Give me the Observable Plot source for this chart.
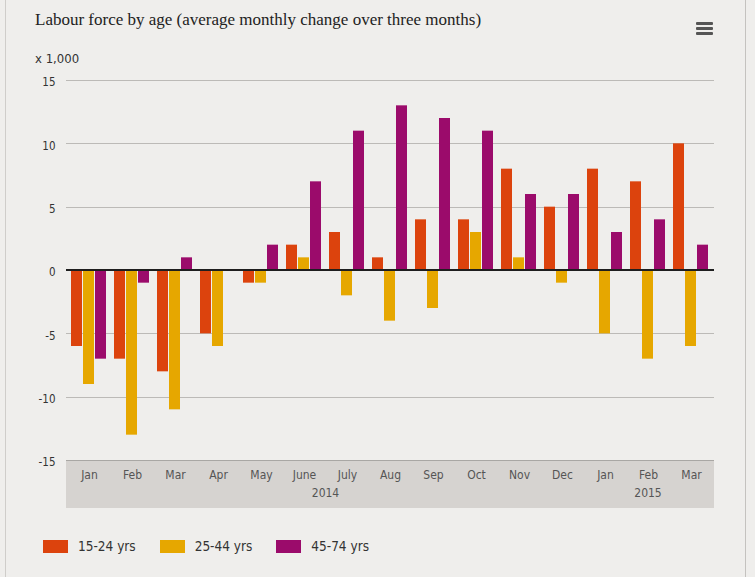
<!DOCTYPE html>
<html><head><meta charset="utf-8">
<script src="https://cdn.jsdelivr.net/npm/d3@7"></script>
<script src="https://cdn.jsdelivr.net/npm/@observablehq/plot@0.6"></script>
<style>
body{margin:0;background:#efeeec;}
#card{position:relative;width:755px;height:577px;background:#efeeec;overflow:hidden;font-family:"Liberation Sans Narrow","DejaVu Sans Condensed","Open Sans",sans-serif;color:#333;}
#frame{position:absolute;left:5px;top:-2px;width:739px;height:590px;border-left:1px solid #cfcdca;border-right:1px solid #c4c2bf;}
#title{position:absolute;left:35px;top:10px;font-family:"Liberation Serif","DejaVu Serif",serif;font-size:17px;color:#222;white-space:nowrap;}
#menu{position:absolute;left:696px;top:22px;width:17px;}
#menu span{display:block;height:3px;background:#555;margin-bottom:2px;border-radius:1px;}
#unit{position:absolute;left:35px;top:51px;font-size:13px;color:#333;}
#chart{position:absolute;left:0;top:68px;}
#legend{position:absolute;left:43px;top:538px;display:flex;font-size:13.5px;color:#333;}
#legend .item{display:flex;align-items:center;margin-right:0;}
#legend .sw{width:25px;height:13px;margin-right:10px;}
</style></head><body>
<div id="card">
 <div id="frame"></div>
 <div id="title">Labour force by age (average monthly change over three months)</div>
 <div id="menu"><span></span><span></span><span></span></div>
 <div id="unit">x 1,000</div>
 <div id="chart"></div>
 <div id="legend"></div>
</div>
<script>
const monthKeys = ["2014-01","2014-02","2014-03","2014-04","2014-05","2014-06","2014-07","2014-08","2014-09","2014-10","2014-11","2014-12","2015-01","2015-02","2015-03"];
const monthLabels = ["Jan","Feb","Mar","Apr","May","June","July","Aug","Sep","Oct","Nov","Dec","Jan","Feb","Mar"];
const yearLabels = ["2014","2015"];
const seriesNames = ["15-24 yrs","25-44 yrs","45-74 yrs"];
const seriesColors = ["#dc430d","#e6a700","#9b0b6b"];
const age15_24 = [-6,-7,-8,-5,-1,2,3,1,4,4,8,5,8,7,10];
const age25_44 = [-9,-13,-11,-6,-1,1,-2,-4,-3,3,1,-1,-5,-7,-6];
const age45_74 = [-7,-1,1,0,2,7,11,13,12,11,6,6,3,4,2];
const yTicks = [-15,-10,-5,0,5,10,15];

const seriesValues = [age15_24, age25_44, age45_74];
const data = [];
monthKeys.forEach((k,i)=>{
  seriesNames.forEach((s,j)=>{ data.push({key:k, series:s, value:seriesValues[j][i]}); });
});
const labelOf = Object.fromEntries(monthKeys.map((k,i)=>[k, monthLabels[i]]));

const W=755, H=440, mT=12, mL=66, mR=41, mB=48;
const font = '"Liberation Sans Narrow","DejaVu Sans Condensed","Open Sans",sans-serif';
const plot = Plot.plot({
  width:W, height:H, marginTop:mT, marginLeft:mL, marginRight:mR, marginBottom:mB,
  style:{background:"transparent", fontFamily:font, fontSize:"12px", color:"#444"},
  fx:{domain:monthKeys, paddingInner:0.17, paddingOuter:0.1, label:null},
  x:{domain:seriesNames, paddingInner:0.08, paddingOuter:0, axis:null},
  y:{domain:[-15,15], label:null},
  color:{domain:seriesNames, range:seriesColors},
  marks:[
    Plot.axisY({ticks:yTicks, tickSize:0, tickPadding:16, label:null, fontSize:11.5, fill:"#333", tickFormat:d=>String(d), dy:2}),
    Plot.axisFx({anchor:"bottom", tickSize:0, tickPadding:10, label:null, tickFormat:k=>labelOf[k], fontSize:12, fill:"#555"}),
    Plot.barY(data, {fx:"key", x:"series", y:"value", fill:"series"})
  ]
});
document.getElementById("chart").appendChild(plot);

const svg = d3.select(plot.tagName.toLowerCase()==="svg" ? plot : plot.querySelector("svg"));
const y = plot.scale("y");
const fx = plot.scale("fx");
const bw = fx.bandwidth;

// grey category band and gridlines (continuous across facets), behind the bars
const gGrid = svg.insert("g", ":first-child");
gGrid.append("rect")
  .attr("x", mL).attr("y", H-mB).attr("width", W-mL-mR).attr("height", mB)
  .attr("fill", "#d6d3d0");
yTicks.filter(v=>v!==0).forEach(v=>{
  const yy = Math.round(y.apply(v)) + 0.5;
  gGrid.append("line").attr("x1", mL).attr("x2", W-mR).attr("y1", yy).attr("y2", yy)
    .attr("stroke", v===-15 ? "#a9a7a4" : "#bcbab7");
});
// zero line on top
const y0 = y.apply(0);
svg.append("line").attr("x1", mL).attr("x2", W-mR).attr("y1", y0).attr("y2", y0)
  .attr("stroke", "#1e1e1e").attr("stroke-width", 2);

// year labels centred under each year's months
yearLabels.forEach(yr=>{
  const ks = monthKeys.filter(k=>k.startsWith(yr));
  const a = fx.apply(ks[0]), b = fx.apply(ks[ks.length-1]) + bw;
  svg.append("text").attr("x",(a+b)/2).attr("y",H-mB+37)
    .attr("text-anchor","middle").attr("font-family",font).attr("font-size",12)
    .attr("fill","#555").text(yr);
});

// legend
const lg = d3.select("#legend");
seriesNames.forEach((s,i)=>{
  const it = lg.append("div").attr("class","item").style("margin-right", i<2?"24px":"0");
  it.append("div").attr("class","sw").style("background", seriesColors[i]);
  it.append("span").text(s);
});
</script>
</body></html>
